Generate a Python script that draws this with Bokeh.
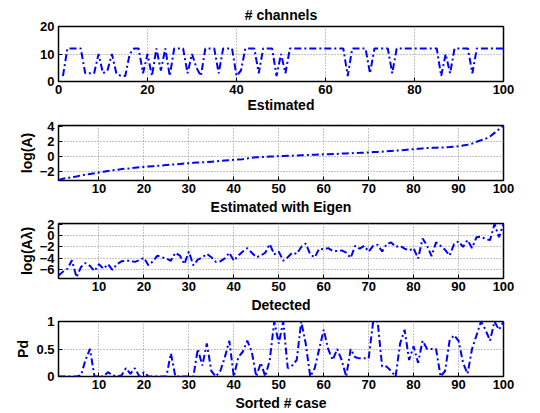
from bokeh.plotting import figure
from bokeh.layouts import column
from bokeh.models import FixedTicker, Range1d
from bokeh.embed import file_html
from bokeh.resources import INLINE

cases = list(range(1, 101))

channels = [2, 12, 12, 12, 12, 3, 3, 3, 10, 3,
            4, 10, 3, 2, 2, 10, 12, 12, 3, 10,
            2, 12, 4, 12, 2, 12, 12, 12, 3, 10,
            5, 2, 12, 12, 12, 3, 12, 12, 12, 2,
            4, 12, 12, 12, 3, 12, 12, 12, 2, 10,
            3, 12, 12, 12, 12, 12, 12, 12, 12, 12,
            12, 12, 12, 12, 2, 12, 12, 12, 12, 3,
            12, 12, 12, 12, 3, 12, 12, 12, 12, 12,
            12, 12, 12, 12, 12, 2, 10, 3, 12, 12,
            12, 12, 3, 12, 12, 12, 12, 12, 12, 12]

log_a = [-3.2, -3.0, -2.9, -2.8, -2.7, -2.55, -2.45, -2.35, -2.25, -2.15,
         -2.05, -1.95, -1.85, -1.8, -1.7, -1.65, -1.6, -1.5, -1.45, -1.4,
         -1.35, -1.3, -1.25, -1.2, -1.15, -1.1, -1.05, -1.0, -0.95, -0.9,
         -0.85, -0.8, -0.78, -0.75, -0.7, -0.65, -0.6, -0.55, -0.5, -0.45,
         -0.4, -0.35, -0.25, -0.15, -0.1, -0.08, -0.05, 0.0, 0.02, 0.05,
         0.08, 0.1, 0.12, 0.15, 0.18, 0.2, 0.22, 0.25, 0.28, 0.3,
         0.32, 0.34, 0.36, 0.4, 0.42, 0.45, 0.48, 0.5, 0.53, 0.56,
         0.6, 0.63, 0.66, 0.7, 0.75, 0.8, 0.85, 0.9, 0.95, 1.0,
         1.05, 1.1, 1.15, 1.18, 1.2, 1.22, 1.25, 1.28, 1.32, 1.38,
         1.5, 1.6, 1.75, 2.0, 2.2, 2.4, 2.7, 3.2, 3.7, 4.2]

log_a_lambda = [-7.0, -6.3, -5.8, -4.3, -7.3, -5.5, -4.8, -5.3, -6.2, -5.0,
                -5.8, -5.0, -6.0, -5.0, -4.5, -4.4, -4.4, -4.6, -4.3, -3.9,
                -5.2, -4.5, -3.5, -3.8, -4.0, -4.4, -3.0, -3.5, -5.0, -2.8,
                -5.2, -4.2, -3.8, -3.2, -3.8, -4.6, -4.5, -4.0, -3.0, -4.4,
                -3.5, -2.8, -2.2, -3.0, -3.8, -3.5, -3.0, -1.5, -3.3, -2.8,
                -4.4, -3.8, -3.0, -3.2, -2.0, -1.4, -3.3, -3.8, -2.3, -2.4,
                -2.2, -2.7, -2.7, -2.6, -3.0, -3.9, -1.8, -2.3, -1.8, -2.8,
                -1.8, -1.6, -2.8, -1.5, -1.2, -2.0, -1.8, -2.3, -2.6, -2.2,
                -4.0, -0.5, -1.8, -3.6, -1.2, -1.8, -2.5, -3.5, -1.5, -1.0,
                -2.0, -0.8, -2.2, -0.3, -0.2, -0.6, -0.8, 2.0, -0.3, 2.1]

p_d = [0, 0, 0, 0, 0, 0.02, 0.3, 0.5, 0, 0,
       0, 0.08, 0.02, 0, 0.02, 0.15, 0.05, 0.15, 0, 0.08,
       0, 0, 0, 0, 0, 0.42, 0, 0, 0, 0,
       0, 0.5, 0.2, 0.6, 0.1, 0, 0.1, 0.35, 0.65, 0,
       0.35, 0.45, 0.65, 0.45, 0, 0.25, 0, 0.3, 1.0, 0.6,
       1.0, 0.15, 0.2, 0.3, 1.0, 0.6, 0, 0.15, 0.5, 0.85,
       0.5, 0.3, 0.5, 0.3, 0, 0.5, 0.35, 0.33, 0.33, 0.33,
       1.0, 1.0, 0.18, 0.18, 0.1, 0, 0.6, 0.85, 0.3, 0.55,
       0.25, 0.65, 0.5, 0.5, 0.5, 0, 0.1, 0.65, 0.75, 0.65,
       0.25, 0.05, 0.5, 0.75, 1.0, 0.85, 0.65, 1.0, 0.85, 1.0]

xticks_top = [0, 20, 40, 60, 80, 100]
xticks_rest = [10, 20, 30, 40, 50, 60, 70, 80, 90, 100]

FONT = "Liberation Sans"
BLUE = "#0000ff"


def panel(y, xr, yr, xt, yt, xlabel, ylabel, title=None, top=9, xlab_gap=3,
          ylab_over=None):
    p = figure(frame_width=445, frame_height=55,
               x_range=Range1d(*xr), y_range=Range1d(*yr),
               output_backend="svg", toolbar_location=None,
               min_border_left=58, min_border_right=37,
               min_border_top=top, min_border_bottom=0)
    p.background_fill_color = "white"
    p.border_fill_color = "white"
    p.outline_line_color = "black"
    p.outline_line_width = 1.5
    p.xaxis.ticker = FixedTicker(ticks=xt)
    p.yaxis.ticker = FixedTicker(ticks=yt)
    for ax in p.xaxis + p.yaxis:
        ax.axis_line_color = None
        ax.major_tick_in = 4
        ax.major_tick_out = 0
        ax.major_tick_line_color = "black"
        ax.major_tick_line_width = 1
        ax.minor_tick_line_color = None
        ax.major_label_text_font = FONT
        ax.major_label_text_font_style = "bold"
        ax.major_label_text_font_size = "13px"
        ax.major_label_text_color = "black"
        ax.major_label_standoff = 3
        ax.axis_label_text_font = FONT
        ax.axis_label_text_font_style = "bold"
        ax.axis_label_text_font_size = "14px"
        ax.axis_label_text_color = "black"
        ax.axis_label_standoff = xlab_gap
    p.yaxis.major_label_standoff = 4
    p.yaxis.axis_label_standoff = 2
    p.xaxis.axis_label = xlabel
    if ylabel:
        p.yaxis.axis_label = ylabel
    if ylab_over:
        p.yaxis.major_label_overrides = ylab_over
    p.xgrid.grid_line_color = "#8a8a8a"
    p.ygrid.grid_line_color = "#8a8a8a"
    p.xgrid.grid_line_dash = "1 2"
    p.ygrid.grid_line_dash = "1 2"
    p.xgrid.grid_line_width = 1
    p.ygrid.grid_line_width = 1
    if title:
        p.title.text = title
        p.title.align = "center"
        p.title.text_font = FONT
        p.title.text_font_style = "bold"
        p.title.text_font_size = "14px"
        p.title.text_color = "black"
        p.title.standoff = 8
    p.line(cases, y, line_color=BLUE, line_width=2, line_dash="7 3 2 3")
    return p


p1 = panel(channels, (0, 100), (0, 20), xticks_top, [0, 10, 20],
           "Estimated", None, title="# channels", top=26, xlab_gap=0)
p2 = panel(log_a, (1, 100), (-3.24, 4.2), xticks_rest, [-2, 0, 2, 4],
           "Estimated with Eigen", "log(A)", top=10)
p3 = panel(log_a_lambda, (1, 100), (-7.5, 2.1), xticks_rest, [-6, -4, -2, 0, 2],
           "Detected", "log(A\u03bb)", top=6)
p4 = panel(p_d, (1, 100), (0, 1), xticks_rest, [0, 0.5, 1],
           "Sorted # case", "Pd", top=6, ylab_over={0: "0", 0.5: "0.5", 1: "1"})

layout = column(p1, p2, p3, p4, spacing=0)
open("out.html", "w").write(file_html(layout, INLINE))
